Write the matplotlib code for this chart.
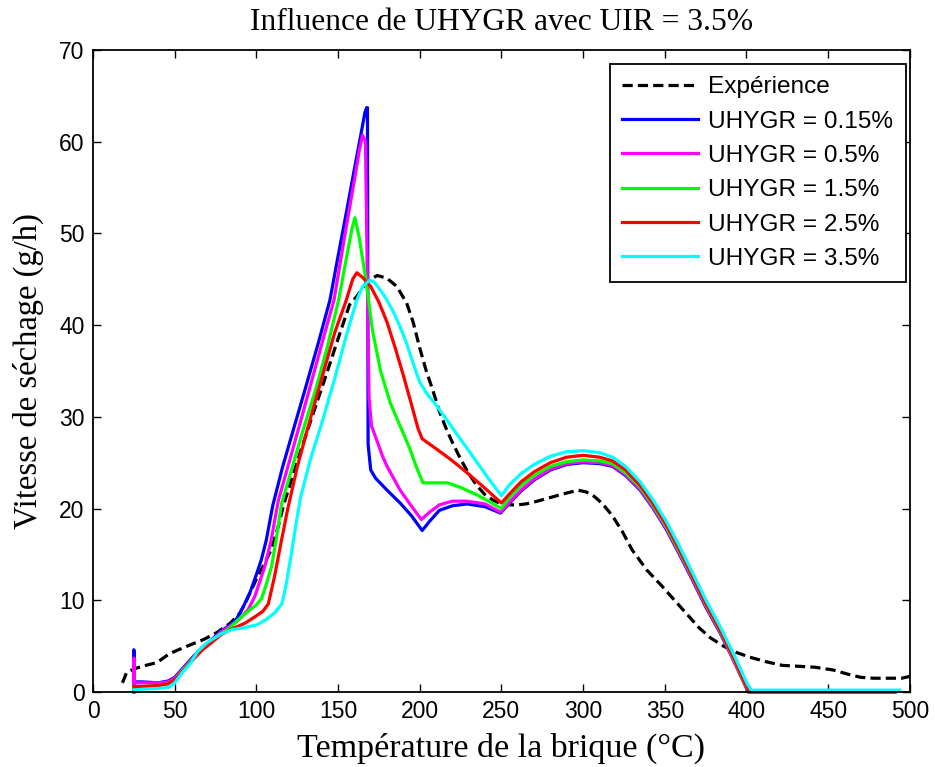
import matplotlib
matplotlib.use("Agg")
from matplotlib import pyplot as plt

# Experimental curve (black dashed).
exp_x = [18, 20.5, 25, 30, 39, 47, 59, 67.5, 76, 84, 90, 94, 100, 105, 109, 113, 117, 127, 135, 143, 150, 157,
         161.4, 168, 174, 180, 186, 192, 196, 200, 204, 208, 212, 216, 220, 225, 230, 235, 240, 245, 250, 255,
         260, 265, 272, 280, 288, 297, 302, 307, 312, 318, 324, 330, 339, 348, 357, 364, 371, 378, 386, 394,
         402, 412, 422, 432, 442, 453, 463, 470, 478, 488, 495, 500]
exp_y = [1.0, 2.1, 2.5, 2.8, 3.2, 4.2, 5.1, 5.7, 6.5, 7.5, 8.6, 10.0, 12.3, 14.0, 15.5, 17.8, 20.6, 26.2, 30.5,
         34.7, 38.5, 42.2, 43.1, 44.8, 45.4, 45.1, 44.2, 42.4, 40.3, 37.5, 35.0, 32.9, 30.6, 28.8, 27.2, 25.4,
         23.8, 22.5, 21.5, 20.9, 20.5, 20.4, 20.4, 20.5, 20.8, 21.2, 21.6, 22.0, 21.8, 21.3, 20.5, 19.2, 17.5,
         15.5, 13.3, 11.6, 9.8, 8.4, 7.0, 5.9, 5.0, 4.3, 3.8, 3.3, 2.9, 2.8, 2.7, 2.4, 1.9, 1.6, 1.5, 1.5, 1.5, 1.7]

# UHYGR = 0.15%
u015_x = [25, 25, 25.3, 30, 40, 46, 50, 55, 60, 67, 72, 78, 84, 88, 92, 96, 100, 103, 106, 110, 116, 122, 130,
          138, 145, 150, 155, 160, 164, 166.5, 167.5, 168.0, 168.4, 170, 173, 180, 188, 195, 201.5, 206, 212,
          220, 229, 240, 249.5, 255, 262, 270, 280, 290, 300, 310, 318, 326, 335, 343, 351, 359, 367, 375, 384,
          392, 399, 401, 491]
u015_y = [0, 4.6, 1.1, 1.1, 1.0, 1.2, 1.6, 2.6, 3.6, 4.9, 5.6, 6.6, 7.3, 8.0, 9.3, 10.8, 12.8, 14.4, 16.5,
          20.3, 24.5, 28.2, 33.1, 38.1, 42.7, 47.5, 52.2, 57.0, 60.8, 63.2, 63.7, 63.7, 27.0, 24.2, 23.3, 22.0,
          20.6, 19.2, 17.6, 18.6, 19.8, 20.3, 20.5, 20.2, 19.5, 20.6, 21.9, 23.1, 24.2, 24.8, 25.0, 24.9, 24.6,
          23.6, 22.0, 20.0, 17.7, 15.0, 12.2, 9.3, 6.4, 3.5, 0.8, 0, 0]

# UHYGR = 0.5%
u05_x = [25, 25, 25.3, 30, 40, 46, 50, 55, 60, 67, 72, 78, 84, 90, 95, 99, 102, 105.2, 109, 113.5, 120, 128,
         136, 142, 147.5, 152, 156, 160, 163, 165, 166.8, 168.3, 169, 170.5, 173.6, 177, 180, 184, 188, 194,
         201, 206, 212, 220, 229, 240, 249.5, 255, 262, 270, 280, 290, 300, 310, 318, 326, 335, 343, 351, 359,
         367, 375, 384, 392, 399.5, 402, 491]
u05_y = [0, 3.7, 1.0, 1.0, 1.0, 1.1, 1.5, 2.5, 3.5, 4.8, 5.5, 6.5, 7.2, 8.0, 9.0, 10.4, 12.0, 13.7, 16.5,
         20.9, 25.0, 30.1, 35.3, 39.2, 42.7, 47.5, 51.7, 55.8, 59.0, 60.7, 60.0, 40.0, 32.0, 29.0, 27.5, 25.8,
         24.6, 23.3, 22.0, 20.5, 18.8, 19.6, 20.4, 20.8, 20.8, 20.5, 19.6, 20.7, 22.0, 23.2, 24.3, 24.9, 25.1,
         25.0, 24.7, 23.7, 22.1, 20.1, 17.8, 15.1, 12.3, 9.4, 6.5, 3.5, 0.6, 0, 0]

# UHYGR = 1.5%
u15_x = [25, 30, 40, 46, 50, 55, 60, 67, 72, 78, 84, 89, 95, 100, 103.2, 106, 109.3, 112, 115.5, 120, 128, 136,
         143, 150.3, 155, 158.5, 160.3, 163, 167, 171, 176, 182, 188, 194, 198, 202, 210, 217, 225, 235, 243,
         250, 255, 262, 270, 280, 290, 300, 310, 318, 326, 335, 343, 351, 359, 367, 375, 384, 392, 399.5, 402, 491]
u15_y = [0.5, 0.6, 0.7, 0.9, 1.3, 2.4, 3.4, 4.7, 5.4, 6.3, 7.0, 7.9, 8.8, 9.5, 10.2, 11.7, 13.7, 16.5, 20.6,
         23.3, 28.2, 32.8, 37.3, 42.7, 47.2, 50.5, 51.7, 49.5, 45.0, 39.5, 35.0, 31.5, 29.0, 26.5, 24.5, 22.8,
         22.8, 22.8, 22.3, 21.5, 20.7, 20.0, 21.2, 22.5, 23.6, 24.6, 25.1, 25.3, 25.2, 24.9, 23.9, 22.3, 20.3,
         18.0, 15.3, 12.5, 9.6, 6.6, 3.7, 0.7, 0, 0]

# UHYGR = 2.5%
u25_x = [25, 30, 40, 46, 50, 55, 60, 67, 72, 78, 84, 88, 93, 100, 104, 107.3, 111, 115, 119, 125, 131, 140, 148,
         155, 159, 161.5, 165, 170, 175, 180, 185, 190, 195, 199, 201.5, 207, 214, 220, 229, 240, 250, 255, 262,
         270, 280, 290, 300, 310, 318, 326, 335, 343, 351, 359, 367, 375, 384, 392, 399.8, 402, 491]
u25_y = [0.6, 0.6, 0.7, 0.9, 1.3, 2.3, 3.3, 4.6, 5.3, 6.2, 6.8, 7.1, 7.5, 8.3, 8.8, 9.6, 12.5, 16.2, 19.8, 24.5,
         28.5, 34.2, 39.2, 42.7, 45.0, 45.7, 45.2, 44.2, 42.5, 40.3, 37.5, 34.5, 31.3, 28.7, 27.6, 26.9, 26.0,
         25.2, 23.9, 22.2, 20.6, 21.6, 22.9, 24.0, 25.0, 25.6, 25.8, 25.6, 25.2, 24.2, 22.5, 20.5, 18.2, 15.5,
         12.6, 9.7, 6.7, 3.8, 0.7, 0, 0]

# UHYGR = 3.5%
u35_x = [25, 30, 40, 46, 50, 55, 60, 64, 70, 78, 85, 92, 100, 106, 111, 115.6, 118, 121, 124, 127, 133, 140, 148,
         155, 161.4, 165, 169.5, 172, 176, 180, 184, 188, 192, 196, 200, 204, 210, 218, 226, 234, 242, 250, 255,
         262, 270, 280, 290, 300, 310, 318, 326, 335, 343, 351, 359, 367, 375, 384, 392, 400.5, 403, 494]
u35_y = [0.2, 0.3, 0.4, 0.5, 1.0, 2.2, 3.2, 4.4, 5.4, 6.3, 6.8, 7.0, 7.3, 7.9, 8.6, 9.6, 11.5, 14.6, 18.0, 21.2,
         25.3, 29.3, 34.2, 38.8, 42.7, 44.2, 44.9, 44.7, 43.8, 42.7, 41.4, 39.8, 38.0, 35.8, 33.8, 32.6, 31.3,
         29.3, 27.3, 25.3, 23.3, 21.4, 22.6, 23.8, 24.8, 25.7, 26.2, 26.3, 26.1, 25.6, 24.6, 22.9, 20.9, 18.6,
         15.9, 13.0, 10.1, 7.1, 4.2, 0.9, 0.2, 0.2]

labels = ["Expérience", "UHYGR = 0.15%", "UHYGR = 0.5%", "UHYGR = 1.5%", "UHYGR = 2.5%", "UHYGR = 3.5%"]

serif = ["Liberation Serif", "DejaVu Serif"]
sans = ["Liberation Sans", "DejaVu Sans"]

plt.rcParams['font.family'] = sans
plt.rcParams['xtick.direction'] = 'in'
plt.rcParams['ytick.direction'] = 'in'

fig = plt.figure(figsize=(9.35, 7.67), dpi=100)
ax = fig.add_axes([0.0995, 0.0978, 0.8735, 0.8372])

lw = 2.3
# Matlab style colors: k--, b, m, g, r, c
ax.plot(exp_x, exp_y, color='k', lw=lw, dashes=(3.2, 1.6), label=labels[0], clip_on=False)
ax.plot(u015_x, u015_y, color=(0, 0, 1), lw=lw, label=labels[1], clip_on=False)
ax.plot(u05_x, u05_y, color=(1, 0, 1), lw=lw, label=labels[2], clip_on=False)
ax.plot(u15_x, u15_y, color=(0, 1, 0), lw=lw, label=labels[3], clip_on=False)
ax.plot(u25_x, u25_y, color=(1, 0, 0), lw=lw, label=labels[4], clip_on=False)
ax.plot(u35_x, u35_y, color=(0, 1, 1), lw=lw, label=labels[5], clip_on=False)

ax.set_xlim(0, 500)
ax.set_ylim(0, 70)
ax.set_xticks(range(0, 501, 50))
ax.set_yticks(range(0, 71, 10))
ax.tick_params(top=True, right=True, length=6, width=1.0, labelsize=16.5, pad=6)
for s in ax.spines.values():
    s.set_linewidth(1.3)

ax.set_title("Influence de UHYGR avec UIR = 3.5%", family=serif, fontsize=22.7, pad=14)
ax.set_xlabel("Température de la brique (°C)", family=serif, fontsize=24.5, labelpad=7)
ax.set_ylabel("Vitesse de séchage (g/h)", family=serif, fontsize=23.5, labelpad=11)

leg = ax.legend(loc='upper right', bbox_to_anchor=(0.995, 0.978), fontsize=17.6, handlelength=3.1,
                handletextpad=0.42, labelspacing=0.5, borderpad=0.5, fancybox=False, framealpha=1,
                edgecolor='k', borderaxespad=0)
leg.get_frame().set_linewidth(1.3)

plt.savefig("out.png", dpi=100)
